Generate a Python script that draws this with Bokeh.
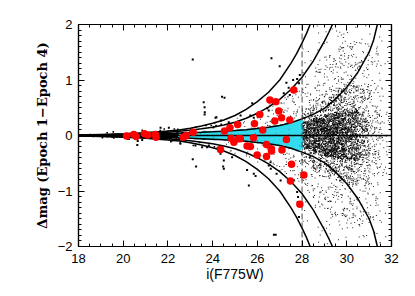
import math
from bokeh.plotting import figure
from bokeh.models import SingleIntervalTicker, LinearAxis
from bokeh.embed import file_html
from bokeh.resources import INLINE

# ---------------- data ----------------
x_start, x_end = 18, 32
y_start, y_end = -2, 2

# red stars (i mag, delta mag)
red_mag = [20.15, 20.47, 20.58, 20.95, 21.10, 21.44, 21.47, 22.68, 22.82, 23.13,
           24.35, 24.53, 24.77, 24.82, 24.95, 25.12, 25.14, 25.24, 25.54, 25.69,
           25.87, 25.83, 25.99, 26.11, 26.24, 26.41, 26.41, 26.56, 26.63, 26.63,
           26.78, 26.83, 26.96, 27.08, 27.10, 27.30, 27.45, 27.53, 27.48, 27.63,
           27.90, 28.08]
red_dmag = [-0.01, 0.02, -0.02, 0.03, 0.01, 0.02, -0.03, -0.03, 0.00, 0.06,
            -0.25, 0.08, 0.14, -0.05, -0.12, 0.20, -0.06, -0.06, -0.19, -0.20,
            0.21, -0.04, -0.35, 0.38, 0.10, -0.16, -0.38, 0.64, -0.24, -0.28,
            0.26, 0.61, 0.44, 0.32, -0.26, -0.07, 0.28, -0.52, -0.82, 0.82,
            -1.24, -0.71]

# isolated black stars
out_mag = [23.11, 23.64, 23.65, 21.67, 22.04, 20.63, 23.11, 23.26, 26.63, 27.00,
           24.53, 23.64, 24.13, 25.69, 25.84, 25.77, 27.60, 27.78, 27.90, 27.86,
           27.40, 27.45, 27.18, 26.44, 26.51, 24.50, 25.62, 25.84, 25.92, 26.74,
           26.82, 26.86, 27.04, 27.78, 27.82, 27.81, 26.60, 26.51, 25.54, 27.86,
           26.59, 24.35, 24.38, 24.72, 25.25, 24.50, 23.23, 23.75, 23.00, 24.42,
           23.60, 20.65, 20.85, 22.19, 23.53, 23.83, 24.17, 24.87, 24.47, 27.30]
out_dmag = [1.37, 0.51, 0.42, 0.14, 0.14, -0.17, -0.43, -0.56, 1.39, 1.25,
            0.68, 0.38, 0.32, 0.36, 0.32, 0.58, 1.00, 1.02, 1.09, 0.94,
            0.86, 0.73, 0.76, 0.49, 0.45, -0.60, -0.90, -0.69, -0.73, -1.79,
            -1.79, -0.69, -0.81, -1.02, -1.11, -1.20, -0.60, -0.54, -0.62, -1.47,
            -0.48, -0.33, 0.27, 0.24, 0.36, -0.45, -0.18, -0.21, 0.09, 0.70,
            0.60, -0.10, -0.08, -0.09, -0.21, -0.18, 0.33, -0.39, -0.56, 0.95]

# envelope curves (upper branch / lower branch)
env_a_mag = [18.0, 19.0, 20.0, 21.0, 22.0, 22.5, 23.0, 23.5, 24.0, 24.5, 25.0, 25.5,
             26.0, 26.5, 27.0, 27.5, 27.75, 28.0, 28.2, 28.38]
env_a_up = [0.01, 0.02, 0.03, 0.05, 0.08, 0.10, 0.13, 0.17, 0.22, 0.28, 0.36, 0.47,
            0.61, 0.78, 1.00, 1.30, 1.47, 1.67, 1.84, 2.02]
env_a_lo = [-0.01, -0.02, -0.03, -0.05, -0.08, -0.10, -0.13, -0.17, -0.22, -0.28, -0.36, -0.47,
            -0.61, -0.78, -1.00, -1.30, -1.47, -1.67, -1.84, -2.02]
env_b_mag = [18.0, 19.0, 20.0, 21.0, 22.0, 23.0, 23.5, 24.0, 24.5, 25.0, 25.5, 26.0,
             26.5, 27.0, 27.5, 28.0, 28.5, 29.0, 29.2, 29.38]
env_b_up = [0.01, 0.015, 0.02, 0.035, 0.058, 0.093, 0.12, 0.15, 0.19, 0.24, 0.31, 0.40,
            0.51, 0.65, 0.83, 1.05, 1.34, 1.70, 1.86, 2.02]
env_b_lo = [-0.01, -0.015, -0.02, -0.035, -0.058, -0.093, -0.12, -0.15, -0.19, -0.24, -0.31, -0.40,
            -0.51, -0.65, -0.83, -1.05, -1.34, -1.70, -1.86, -2.02]
env_c_mag = [18.0, 20.0, 21.0, 22.0, 22.5, 23.0, 23.5, 24.0, 24.5, 25.0, 25.5, 26.0,
             26.5, 27.0, 27.5, 28.0, 28.5, 29.0, 29.5, 30.0, 30.5, 31.0, 31.2, 31.38]
env_c_up = [0.005, 0.015, 0.025, 0.035, 0.042, 0.05, 0.058, 0.067, 0.078, 0.09, 0.105, 0.125,
            0.15, 0.18, 0.23, 0.30, 0.38, 0.49, 0.66, 0.87, 1.14, 1.50, 1.72, 2.02]
env_c_lo = [-0.005, -0.015, -0.025, -0.035, -0.042, -0.05, -0.058, -0.067, -0.078, -0.09, -0.105, -0.125,
            -0.15, -0.18, -0.23, -0.30, -0.38, -0.49, -0.66, -0.87, -1.14, -1.50, -1.72, -2.02]

# black star cloud, read as 0.5-mag columns: star counts and delta-mag half-spread per layer
cloud_lo = [18.5, 19.0, 19.5, 20.0, 20.5, 21.0, 21.5, 22.0, 22.5, 23.0, 23.5, 24.0, 24.5, 25.0,
            25.5, 26.0, 26.5, 27.0, 27.5, 28.0, 28.5, 29.0, 29.5, 30.0, 30.5, 31.0, 31.5]
core_n = [10, 25, 40, 55, 70, 85, 100, 110, 120, 130, 140, 150, 150, 150,
          150, 150, 160, 170, 180, 280, 400, 480, 470, 340, 150, 40, 10]
core_w = [0.02, 0.02, 0.022, 0.025, 0.028, 0.03, 0.035, 0.04, 0.045, 0.05, 0.06, 0.07, 0.08, 0.09,
          0.11, 0.13, 0.15, 0.18, 0.22, 0.25, 0.32, 0.38, 0.42, 0.45, 0.45, 0.45, 0.40]
mid_n = [0, 2, 3, 4, 5, 6, 6, 7, 8, 10, 10, 12, 14, 16,
         18, 34, 42, 55, 65, 150, 220, 270, 280, 240, 140, 55, 15]
mid_w = [0.10, 0.08, 0.08, 0.09, 0.10, 0.11, 0.12, 0.13, 0.15, 0.18, 0.20, 0.24, 0.28, 0.33,
         0.40, 0.48, 0.58, 0.70, 0.85, 0.50, 0.65, 0.75, 0.85, 0.90, 0.90, 0.90, 0.80]
halo_n = [0] * 19 + [70, 100, 125, 135, 135, 100, 50, 16]
halo_w = [1.0] * 19 + [1.0, 1.3, 1.5, 1.6, 1.7, 1.7, 1.6, 1.5]
wing_n = [0] * 19 + [22, 32, 42, 48, 48, 42, 26, 12]
wing_w = [2.0] * 19 + [1.7, 2.0, 2.0, 2.0, 2.0, 2.0, 2.0, 2.0]

# cyan (selected) stars, 0.25-mag columns
cyan_lo = [22.50, 22.75, 23.00, 23.25, 23.50, 23.75, 24.00, 24.25, 24.50, 24.75, 25.00,
           25.25, 25.50, 25.75, 26.00, 26.25, 26.50, 26.75, 27.00, 27.25, 27.50, 27.75]
cyan_n = [8, 14, 23, 24, 26, 28, 30, 32, 35, 38, 41, 43, 48, 52, 57, 62, 68, 74, 82, 93, 106, 121]
cyan_w = [0.040, 0.046, 0.050, 0.054, 0.058, 0.063, 0.068, 0.073, 0.079, 0.085, 0.092,
          0.098, 0.107, 0.117, 0.128, 0.140, 0.153, 0.168, 0.186, 0.210, 0.240, 0.275]


def _h(v):
    # deterministic hash in [0, 1) used only to lay the counted stars out inside a column
    s = math.sin(v) * 43758.5453123
    return s - math.floor(s)


def spread(lo, step, counts, widths, k0):
    xs, ys = [], []
    k = k0
    for m0, n, w in zip(lo, counts, widths):
        for _ in range(n):
            k += 1
            xs.append(m0 + step * _h(k * 12.9898 + 1.0))
            ys.append(w * (2.0 * _h(k * 78.233 + 4.1) - 1.0))
    return xs, ys


W, H = 415, 296
p = figure(width=W, height=H, x_range=(x_start, x_end), y_range=(y_start, y_end),
           output_backend="svg", toolbar_location=None,
           min_border_left=78, min_border_right=24, min_border_top=24, min_border_bottom=50,
           x_axis_label="i(F775W)", y_axis_label="Δmag (Epoch 1−Epoch 4)")
p.grid.visible = False
p.outline_line_color = "black"
p.outline_line_width = 1.2
p.background_fill_color = "white"
p.border_fill_color = "white"

# black cloud: bright band drawn with slightly larger dots, faint stars as fine specks
bx, by, fx, fy = [], [], [], []
layers = [(core_n, core_w), (mid_n, mid_w), (halo_n, halo_w), (wing_n, wing_w)]
for i, (nn, ww) in enumerate(layers):
    xs, ys = spread(cloud_lo, 0.5, nn, ww, 10000 * i + 7)
    for a, b in zip(xs, ys):
        if a < 24.5:
            bx.append(a)
            by.append(b)
        else:
            fx.append(a)
            fy.append(b)
p.scatter(fx, fy, marker="square", size=1.0, fill_color="black", fill_alpha=0.85, line_color=None)
p.scatter(bx, by, marker="square", size=1.6, fill_color="black", line_color=None)
p.scatter(out_mag, out_dmag, marker="square", size=2.0, fill_color="black", line_color=None)

# cyan
qx, qy = spread(cyan_lo, 0.25, cyan_n, cyan_w, 50000)
p.scatter(qx, qy, marker="square", size=2.4, fill_color="#33dcee", line_color=None)

# envelopes
for mm, up, lo in [(env_a_mag, env_a_up, env_a_lo), (env_b_mag, env_b_up, env_b_lo),
                   (env_c_mag, env_c_up, env_c_lo)]:
    p.line(mm, up, line_color="black", line_width=1.5)
    p.line(mm, lo, line_color="black", line_width=1.5)

p.line([x_start, x_end], [0, 0], line_color="black", line_width=1.3)
p.line([28, 28], [y_start, y_end], line_color="#333333", line_width=0.9, line_dash="6 3")

p.scatter(red_mag, red_dmag, marker="circle", size=7.5, fill_color="#ff0000", line_color=None)


def style(ax, labels=True):
    ax.major_tick_in = 6
    ax.major_tick_out = 0
    ax.minor_tick_in = 3
    ax.minor_tick_out = 0
    ax.axis_line_width = 1.2
    ax.axis_line_color = "black"
    ax.major_tick_line_color = "black"
    ax.minor_tick_line_color = "black"
    ax.major_tick_line_width = 1
    ax.minor_tick_line_width = 1
    ax.major_label_text_font = "Liberation Sans"
    if labels:
        ax.major_label_text_font_size = "13px"
        ax.major_label_text_color = "black"
    else:
        ax.major_label_text_font_size = "1px"
        ax.major_label_text_color = None
        ax.major_label_standoff = 0


p.xaxis.ticker = SingleIntervalTicker(interval=2, num_minor_ticks=4)
p.yaxis.ticker = SingleIntervalTicker(interval=1, num_minor_ticks=10)
style(p.xaxis[0])
style(p.yaxis[0])
p.xaxis.major_label_standoff = 7
p.yaxis.major_label_standoff = 6
p.yaxis.major_label_overrides = {-2: "−2", -1: "−1"}
p.xaxis.axis_label_text_font = "Liberation Sans"
p.xaxis.axis_label_text_font_style = "normal"
p.xaxis.axis_label_text_font_size = "14px"
p.xaxis.axis_label_text_color = "black"
p.xaxis.axis_label_standoff = 0
p.yaxis.axis_label_text_font = "DejaVu Serif"
p.yaxis.axis_label_text_font_style = "bold"
p.yaxis.axis_label_text_font_size = "13px"
p.yaxis.axis_label_text_color = "black"
p.yaxis.axis_label_standoff = 5

top = LinearAxis(ticker=SingleIntervalTicker(interval=2, num_minor_ticks=4))
style(top, False)
p.add_layout(top, "above")
right = LinearAxis(ticker=SingleIntervalTicker(interval=1, num_minor_ticks=10))
style(right, False)
p.add_layout(right, "right")

open("out.html", "w").write(file_html(p, INLINE))
